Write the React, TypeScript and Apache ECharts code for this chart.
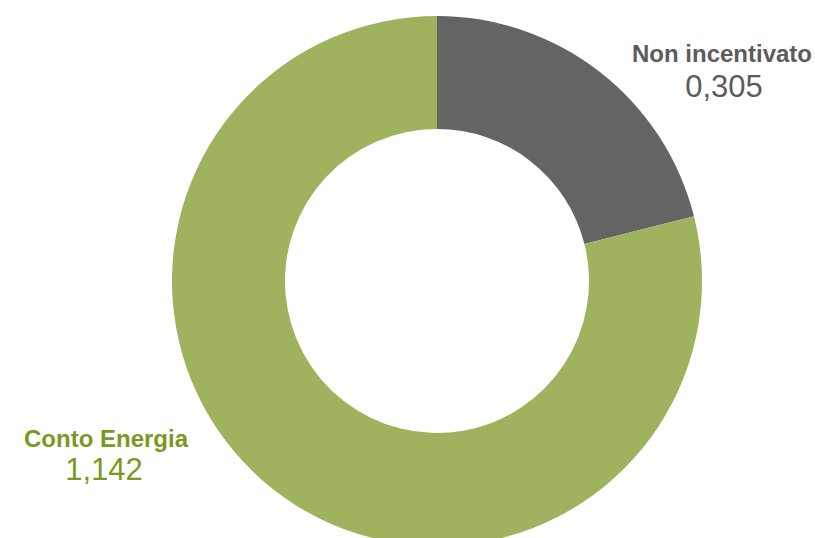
import React, { useEffect, useRef } from "react";
import * as echarts from "echarts";

const categories = ["Non incentivato", "Conto Energia"];
const values = [0.305, 1.142];
const valueLabels = ["0,305", "1,142"];
const sliceColors = ["#646464", "#9fb35e"];
const labelColors = ["#5c5c5c", "#789a1f"];

export default function App() {
  const ref = useRef<HTMLDivElement>(null);
  useEffect(() => {
    if (!ref.current) return;
    const chart = echarts.init(ref.current, null, { renderer: "svg" });
    const labelPos = [
      { x: 722, y1: 53, y2: 86, x2: 724 },
      { x: 106, y1: 438, y2: 469, x2: 104 },
    ];
    const graphics: any[] = [];
    categories.forEach((c, i) => {
      graphics.push({
        type: "text",
        x: labelPos[i].x,
        y: labelPos[i].y1,
        style: {
          text: c,
          fill: labelColors[i],
          font: "bold 24px 'Liberation Sans', Arial, sans-serif",
          textAlign: "center",
          textVerticalAlign: "middle",
        },
      });
      graphics.push({
        type: "text",
        x: labelPos[i].x2,
        y: labelPos[i].y2,
        style: {
          text: valueLabels[i],
          fill: labelColors[i],
          font: "31px 'Liberation Sans', Arial, sans-serif",
          textAlign: "center",
          textVerticalAlign: "middle",
        },
      });
    });
    chart.setOption({
      animation: false,
      series: [
        {
          type: "pie",
          center: [437, 281],
          radius: [152, 265],
          startAngle: 90,
          clockwise: true,
          label: { show: false },
          labelLine: { show: false },
          emphasis: { disabled: true },
          data: categories.map((c, i) => ({
            name: c,
            value: values[i],
            itemStyle: { color: sliceColors[i] },
          })),
        },
      ],
      graphic: graphics,
    });
    return () => chart.dispose();
  }, []);
  return (
    <div
      ref={ref}
      style={{ position: "absolute", left: 0, top: 0, width: 815, height: 538, background: "#fff" }}
    />
  );
}
